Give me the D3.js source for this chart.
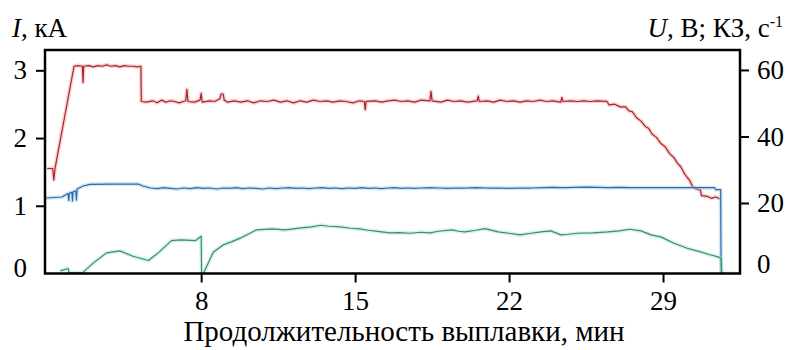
<!DOCTYPE html>
<html>
<head>
<meta charset="utf-8">
<script src="https://cdn.jsdelivr.net/npm/d3@7"></script>
</head>
<body style="margin:0">
<div id="chart"></div>
<script>
// Time, min
const X_TICKS = [8, 15, 22, 29];
const LEFT_TICKS = [0, 1, 2, 3];
const RIGHT_TICKS = [0, 20, 40, 60];

// Current I, kA  [min, kA]
const CURRENT = [
    [1.0, 1.55], [1.25, 1.55], [1.3, 1.38], [1.36, 1.56], [2.22, 3.06], [2.4, 3.07], [2.6, 3.06],
    [2.63, 2.82], [2.66, 3.06], [2.9, 3.07], [3.1, 3.05], [3.3, 3.07], [3.5, 3.06], [3.7, 3.08],
    [3.9, 3.06], [4.1, 3.07], [4.3, 3.05], [4.5, 3.07], [4.7, 3.06], [4.9, 3.06], [5.1, 3.05],
    [5.26, 3.06], [5.28, 2.54],
    [5.5, 2.53], [5.8, 2.55], [6.0, 2.52], [6.2, 2.56], [6.4, 2.53], [6.6, 2.55], [6.8, 2.54],
    [7.0, 2.52], [7.3, 2.55], [7.35, 2.72], [7.4, 2.54], [7.7, 2.53], [7.95, 2.56], [8.0, 2.66],
    [8.05, 2.53], [8.4, 2.55], [8.6, 2.54], [8.85, 2.58], [8.9, 2.65], [9.0, 2.65], [9.05, 2.56],
    [9.2, 2.53], [9.5, 2.55], [9.8, 2.53], [10.1, 2.55], [10.4, 2.52], [10.7, 2.55], [11.0, 2.54],
    [11.3, 2.56], [11.6, 2.53], [11.9, 2.55], [12.2, 2.52], [12.5, 2.55], [12.8, 2.53], [13.1, 2.56],
    [13.4, 2.54], [13.7, 2.55], [14.0, 2.53], [14.3, 2.55], [14.6, 2.54], [14.9, 2.52], [15.2, 2.55],
    [15.42, 2.54], [15.46, 2.42], [15.5, 2.54], [15.9, 2.55], [16.2, 2.53], [16.5, 2.55], [16.8, 2.56],
    [17.1, 2.54], [17.4, 2.55], [17.7, 2.53], [18.0, 2.56], [18.4, 2.55], [18.45, 2.69], [18.5, 2.55],
    [18.9, 2.53], [19.2, 2.56], [19.5, 2.54], [19.8, 2.55], [20.1, 2.53], [20.55, 2.55], [20.6, 2.62],
    [20.65, 2.54], [21.0, 2.55], [21.3, 2.53], [21.6, 2.56], [21.9, 2.54], [22.2, 2.55], [22.5, 2.53],
    [22.8, 2.55], [23.1, 2.54], [23.4, 2.56], [23.7, 2.54], [24.0, 2.55], [24.35, 2.53], [24.4, 2.60],
    [24.45, 2.54], [24.8, 2.55], [25.1, 2.54], [25.4, 2.55], [25.7, 2.54], [26.0, 2.55], [26.45, 2.54],
    [26.55, 2.49], [26.8, 2.50], [27.05, 2.46], [27.3, 2.46], [27.45, 2.40], [27.6, 2.39], [27.8, 2.30],
    [28.0, 2.25], [28.2, 2.17], [28.35, 2.14], [28.5, 2.06], [28.7, 2.01], [28.9, 1.92], [29.1, 1.87],
    [29.3, 1.77], [29.5, 1.71], [29.65, 1.63], [29.8, 1.58], [30.0, 1.46], [30.2, 1.38], [30.35, 1.28],
    [30.5, 1.25], [30.7, 1.23], [30.75, 1.15], [31.0, 1.14], [31.2, 1.11], [31.4, 1.13], [31.6, 1.10]
];

// Voltage U, V  [min, V]
const VOLTAGE = [
    [0.95, 21.5], [1.67, 21.8], [1.9, 22.7], [1.95, 22.8], [1.98, 20.8], [2.01, 23.0], [2.12, 23.2],
    [2.15, 20.6], [2.18, 23.4], [2.3, 23.6], [2.33, 20.9], [2.36, 24.2], [2.63, 25.1], [2.95, 25.6],
    [3.85, 25.7], [5.13, 25.7], [5.35, 25.1], [5.7, 24.5], [6.0, 24.3], [6.3, 24.6], [6.6, 24.4],
    [6.9, 24.2], [7.2, 24.5], [7.5, 24.3], [7.8, 24.6], [8.1, 24.4], [8.4, 24.5], [8.7, 24.2],
    [9.0, 24.5], [9.3, 24.4], [9.6, 24.6], [9.9, 24.3], [10.2, 24.5], [10.5, 24.4], [10.8, 24.2],
    [11.1, 24.5], [11.4, 24.3], [11.7, 24.5], [12.0, 24.6], [12.3, 24.4], [12.6, 24.5], [12.9, 24.3],
    [13.2, 24.5], [13.5, 24.6], [13.8, 24.4], [14.1, 24.5], [14.4, 24.3], [14.7, 24.5], [15.0, 24.4],
    [15.3, 24.6], [15.6, 24.4], [15.9, 24.5], [16.2, 24.3], [16.5, 24.5], [16.8, 24.6], [17.1, 24.4],
    [17.4, 24.5], [17.7, 24.4], [18.0, 24.5], [18.4, 24.6], [18.8, 24.5], [19.2, 24.4], [19.6, 24.5],
    [20.0, 24.5], [20.5, 24.6], [21.0, 24.5], [21.5, 24.5], [22.0, 24.4], [22.5, 24.5], [23.0, 24.5],
    [23.5, 24.6], [24.0, 24.7], [24.5, 24.6], [25.0, 24.7], [25.5, 24.8], [26.0, 24.7], [26.5, 24.6],
    [27.0, 24.7], [27.5, 24.6], [28.0, 24.6], [28.5, 24.6], [29.0, 24.6], [29.5, 24.6], [30.0, 24.6],
    [30.5, 24.6], [31.0, 24.6], [31.35, 24.6], [31.4, 24.0], [31.62, 24.0], [31.64, -1.2]
];

// Short circuits KZ, 1/s  [min, 1/s]
const SHORTS = [
    [1.6, -0.4], [1.95, 0.3], [2.0, -1.0], [2.6, -1.0], [3.1, 2.0], [3.7, 5.0], [4.3, 5.6],
    [4.9, 4.0], [5.6, 2.7], [6.05, 5.0], [6.65, 8.7], [7.1, 8.9], [7.75, 8.7], [8.0, 10.0],
    [8.02, -1.2], [8.1, -1.2], [8.55, 5.2], [9.0, 7.4], [9.4, 8.4], [9.8, 9.5], [10.5, 11.9],
    [11.25, 12.2], [11.8, 11.9], [12.2, 12.2], [12.55, 12.5], [13.0, 12.8], [13.45, 13.3],
    [13.8, 13.0], [14.2, 12.9], [14.8, 12.4], [15.2, 12.2], [15.6, 11.8], [16.1, 11.4], [16.6, 11.0],
    [17.0, 11.1], [17.5, 10.9], [18.0, 11.2], [18.4, 11.0], [18.8, 11.5], [19.4, 11.9], [19.7, 11.5],
    [20.0, 11.3], [20.5, 11.8], [20.9, 12.3], [21.5, 11.3], [22.0, 10.9], [22.5, 10.4], [23.0, 10.9],
    [23.45, 11.3], [23.9, 11.6], [24.36, 10.4], [24.7, 10.6], [25.1, 10.9], [25.8, 11.0], [26.5, 11.3],
    [27.0, 11.6], [27.5, 12.1], [28.0, 11.6], [28.45, 10.4], [28.9, 9.8], [29.5, 7.9], [30.1, 6.4],
    [30.7, 5.3], [31.1, 4.5], [31.5, 3.8], [31.64, 3.4], [31.67, -1.2], [32.4, -1.2]
];

const FONT = "Times New Roman";
const width = 789;
const height = 350;
const plot = { left: 45, right: 740, top: 50, bottom: 273.5 };

const svg = d3.select("#chart")
    .append("svg")
    .attr("width", width)
    .attr("height", height);

const xScale = d3.scaleLinear()
    .domain([0.9, 32.5])
    .range([plot.left, plot.right]);

const yLeft = d3.scaleLinear()
    .domain([0, 3.3])
    .range([plot.bottom, plot.top]);

const yRight = d3.scaleLinear()
    .domain([-1.2, 66])
    .range([plot.bottom, plot.top]);

svg.append("defs").append("clipPath")
    .attr("id", "clip")
    .append("rect")
    .attr("x", plot.left)
    .attr("y", plot.top)
    .attr("width", plot.right - plot.left)
    .attr("height", plot.bottom - plot.top);

// Lines: a soft coloured halo under a darker core, like the scanned original
const series = [
    { data: CURRENT, y: yLeft, halo: "#f4a4a4", core: "#a8262a" },
    { data: VOLTAGE, y: yRight, halo: "#9fcdf0", core: "#2f6aa6" },
    { data: SHORTS, y: yRight, halo: "#a8ead0", core: "#3f8a6c" }
];

const lineGroup = svg.append("g")
    .attr("clip-path", "url(#clip)");

series.forEach(s => {
    const line = d3.line()
        .x(d => xScale(d[0]))
        .y(d => s.y(d[1]));
    lineGroup.append("path")
        .datum(s.data)
        .attr("fill", "none")
        .attr("stroke", s.halo)
        .attr("stroke-width", 4)
        .attr("stroke-opacity", 0.5)
        .attr("stroke-linejoin", "round")
        .attr("d", line);
    lineGroup.append("path")
        .datum(s.data)
        .attr("fill", "none")
        .attr("stroke", s.core)
        .attr("stroke-width", 1.2)
        .attr("stroke-linejoin", "round")
        .attr("d", line);
});

// Axes
const fmt = d3.format("d");

const xAxis = svg.append("g")
    .attr("transform", `translate(0, ${plot.bottom})`)
    .call(d3.axisBottom(xScale).tickValues(X_TICKS).tickFormat(fmt)
        .tickSize(9).tickSizeOuter(0).tickPadding(8));

const leftAxis = svg.append("g")
    .attr("transform", `translate(${plot.left}, 0)`)
    .call(d3.axisLeft(yLeft).tickValues(LEFT_TICKS).tickFormat(fmt)
        .tickSize(9).tickSizeOuter(0).tickPadding(9));

const rightAxis = svg.append("g")
    .attr("transform", `translate(${plot.right}, 0)`)
    .call(d3.axisRight(yRight).tickValues(RIGHT_TICKS).tickFormat(fmt)
        .tickSize(9).tickSizeOuter(0).tickPadding(8));

[xAxis, leftAxis, rightAxis].forEach(ax => {
    ax.attr("font-family", FONT).attr("font-size", 27);
    ax.select(".domain").remove();
    ax.selectAll("line").attr("stroke", "#000").attr("stroke-width", 2);
    ax.selectAll("text").attr("fill", "#000").attr("font-size", 27);
});

// no tick mark at zero, label sits a bit higher
[leftAxis, rightAxis].forEach(ax => {
    ax.selectAll(".tick")
        .filter(d => d === 0)
        .each(function () {
            d3.select(this).select("line").remove();
            d3.select(this).select("text").attr("y", -6);
        });
});

// Frame
svg.append("rect")
    .attr("x", plot.left)
    .attr("y", plot.top)
    .attr("width", plot.right - plot.left)
    .attr("height", plot.bottom - plot.top)
    .attr("fill", "none")
    .attr("stroke", "#000")
    .attr("stroke-width", 2.5);

// Axis titles
const leftTitle = svg.append("text")
    .attr("x", 12)
    .attr("y", 37)
    .attr("font-size", 27);
leftTitle.append("tspan").attr("font-style", "italic").text("I");
leftTitle.append("tspan").text(", кА");

const rightTitle = svg.append("text")
    .attr("x", 783)
    .attr("y", 37)
    .attr("font-size", 27)
    .attr("text-anchor", "end");
rightTitle.append("tspan").attr("font-style", "italic").text("U");
rightTitle.append("tspan").text(", В; КЗ, с");
rightTitle.append("tspan").attr("font-size", 16).attr("dy", -10).text("-1");

svg.append("text")
    .attr("x", 404)
    .attr("y", 341)
    .attr("font-size", 29)
    .attr("text-anchor", "middle")
    .text("Продолжительность выплавки, мин");

// serif face on every text, forced past any inherited rule
svg.selectAll("text, tspan")
    .attr("font-family", FONT)
    .style("font-family", `"${FONT}", "Liberation Serif", serif`, "important");
</script>
</body>
</html>
